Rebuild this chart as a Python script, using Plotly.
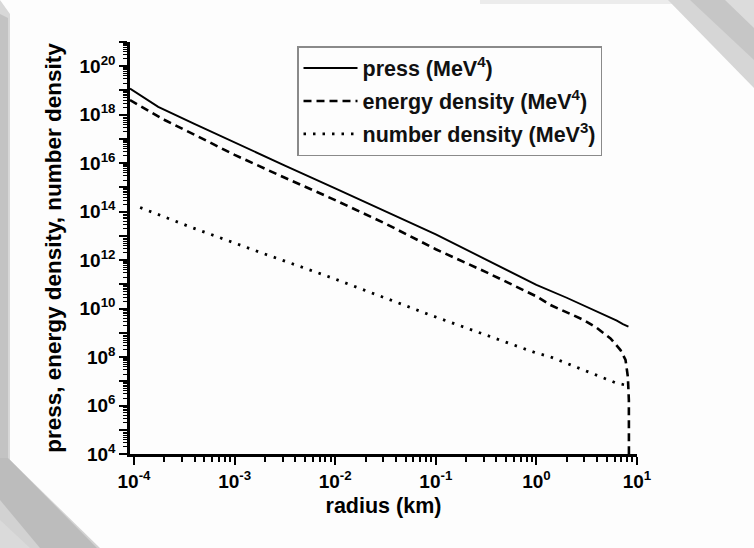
import plotly.graph_objects as go

# ---- data ----
press_radius_km = [9.12e-5, 1.74e-4, 3.98e-4, 1e-3, 3.16e-3, 1e-2, 3.16e-2, 0.1, 0.316,
                   1.0, 2.0, 3.16, 5.0, 6.3, 7.24, 7.94, 8.22]
press_mev4 = [1.2e19, 2.1e18, 4.2e17, 7.1e16, 7.9e15, 9.1e14, 1.0e14, 1.15e13, 1.05e12,
              9.5e10, 2.8e10, 1.2e10, 5.0e9, 3.2e9, 2.3e9, 2.0e9, 1.8e9]

energy_radius_km = [9.12e-5, 2.04e-4, 3.98e-4, 1e-3, 3.16e-3, 1e-2, 3.16e-2, 0.1, 0.316,
                    1.0, 1.38, 2.0, 2.95, 3.98, 5.45, 6.85, 7.69, 8.11, 8.30, 8.32]
energy_density_mev4 = [4.0e18, 5.9e17, 1.5e17, 2.2e16, 2.5e15, 3.0e14, 3.2e13, 2.8e12, 3.2e11,
                       3.2e10, 1.4e10, 7.1e9, 3.4e9, 1.6e9, 5.9e8, 1.95e8, 7.6e7, 1.55e7, 1.7e6, 1e3]

number_radius_km = [1.15e-4, 3.72e-4, 1.74e-3, 9.55e-3, 8.81e-2, 0.977, 1.38, 2.95, 6.31, 8.22]
number_density_mev3 = [1.48e14, 2.24e13, 2.19e12, 1.78e11, 5.4e9, 1.51e8, 1.02e8, 2.9e7, 8.3e6, 6.6e6]

x_decades = [-4, -3, -2, -1, 0, 1]
y_decades = list(range(4, 22))
series_names = ["press (MeV<sup>4</sup>)", "energy density (MeV<sup>4</sup>)",
                "number density (MeV<sup>3</sup>)"]

x_tickvals = [10.0 ** d for d in x_decades]
x_ticktext = ["10<sup>%d</sup>" % d for d in x_decades]
y_tickvals = [10.0 ** d for d in y_decades]
y_ticktext = ["10<sup>%d</sup>" % d if d % 2 == 0 and d <= 20 else "" for d in y_decades]
x_minor = [m * 10.0 ** d for d in range(-5, 1) for m in range(2, 10)]
y_minor = [m * 10.0 ** d for d in range(4, 21) for m in range(2, 10)]

FONT = "Liberation Sans, Arial, sans-serif"

fig = go.Figure()
fig.add_trace(go.Scatter(x=press_radius_km, y=press_mev4, mode="lines", name=series_names[0],
                         legendgroup="a", line=dict(color="black", width=1.9, dash="solid")))
fig.add_trace(go.Scatter(x=energy_radius_km, y=energy_density_mev4, mode="lines", name=series_names[1],
                         legendgroup="b", line=dict(color="black", width=2.6, dash="8px,5px")))
fig.add_trace(go.Scatter(x=number_radius_km, y=number_density_mev3, mode="lines", name=series_names[2],
                         legendgroup="c", line=dict(color="black", width=2.8, dash="2.5px,7px")))

# plot area in pixels: x 130..637, y 42..454
L, R, T, B = 130, 637, 42, 454
W, H = R - L, B - T


def px(x):
    return (x - L) / W


def py(y):
    return (B - y) / H


def poly(points):
    return "M " + " L ".join("%.4f,%.4f" % (px(a), py(b)) for a, b in points) + " Z"


shapes = []
# decorative slide shadows around the chart
bands = [
    ([(0, 0), (10, 14), (10, 460), (0, 460)], "#d8d8d8"),
    ([(0, 14), (8, 18), (8, 458), (0, 458)], "#c3c3c3"),
    ([(0, 458), (10, 460), (100, 548), (0, 548)], "#d2d2d2"),
    ([(0, 458), (8, 458), (97, 548), (40, 548), (0, 500)], "#bcbcbc"),
    ([(0, 520), (30, 548), (0, 548)], "#dadada"),
    ([(480, 0), (754, 0), (754, 4), (480, 4)], "#ececec"),
    ([(668, 0), (754, 0), (754, 88)], "#d6d6d6"),
    ([(690, 0), (754, 0), (754, 60)], "#c6c6c6"),
    ([(725, 0), (754, 0), (754, 28)], "#dcdcdc"),
]
for pts, col in bands:
    shapes.append(dict(type="path", xref="paper", yref="paper", path=poly(pts),
                       fillcolor=col, line=dict(width=0), layer="below"))

fig.update_layout(
    width=754, height=548,
    margin=dict(l=L, r=754 - R, t=T, b=548 - B, autoexpand=False),
    paper_bgcolor="#fdfdfd", plot_bgcolor="#fdfdfd",
    font=dict(family=FONT, color="black"),
    shapes=shapes,
    showlegend=True,
    legend=dict(x=px(297), y=py(46), xanchor="left", yanchor="top",
                bgcolor="rgba(0,0,0,0)", bordercolor="#8a8a8a", borderwidth=1.5,
                font=dict(family=FONT, size=21.5, color="#111111", weight="bold"),
                tracegroupgap=2, itemwidth=54),
    xaxis=dict(type="log", range=[-4.04, 1.0], showgrid=False, zeroline=False,
               showline=True, linecolor="black", linewidth=2.5,
               ticks="outside", ticklen=8, tickwidth=2, tickcolor="black",
               tickmode="array", tickvals=x_tickvals, ticktext=x_ticktext,
               tickfont=dict(family=FONT, size=19, weight="bold"),
               minor=dict(ticks="outside", ticklen=5, tickwidth=1.5, tickcolor="black",
                          tickmode="array", tickvals=x_minor, showgrid=False),
               title=dict(text="radius (km)", font=dict(family=FONT, size=21.5, weight="bold"),
                          standoff=8)),
    yaxis=dict(type="log", range=[4, 21], showgrid=False, zeroline=False,
               showline=True, linecolor="black", linewidth=2.5,
               ticks="outside", ticklen=8, tickwidth=2, tickcolor="black",
               tickmode="array", tickvals=y_tickvals, ticktext=y_ticktext,
               tickfont=dict(family=FONT, size=19, weight="bold"),
               minor=dict(ticks="outside", ticklen=4, tickwidth=1.2, tickcolor="black",
                          tickmode="array", tickvals=y_minor, showgrid=False),
               title=dict(text="press, energy density, number density",
                          font=dict(family=FONT, size=22.5, weight="bold"), standoff=12)),
)

fig.write_html("out.html", config={"displayModeBar": False},
               post_script="document.body.style.margin='0';document.body.style.overflow='hidden';")
